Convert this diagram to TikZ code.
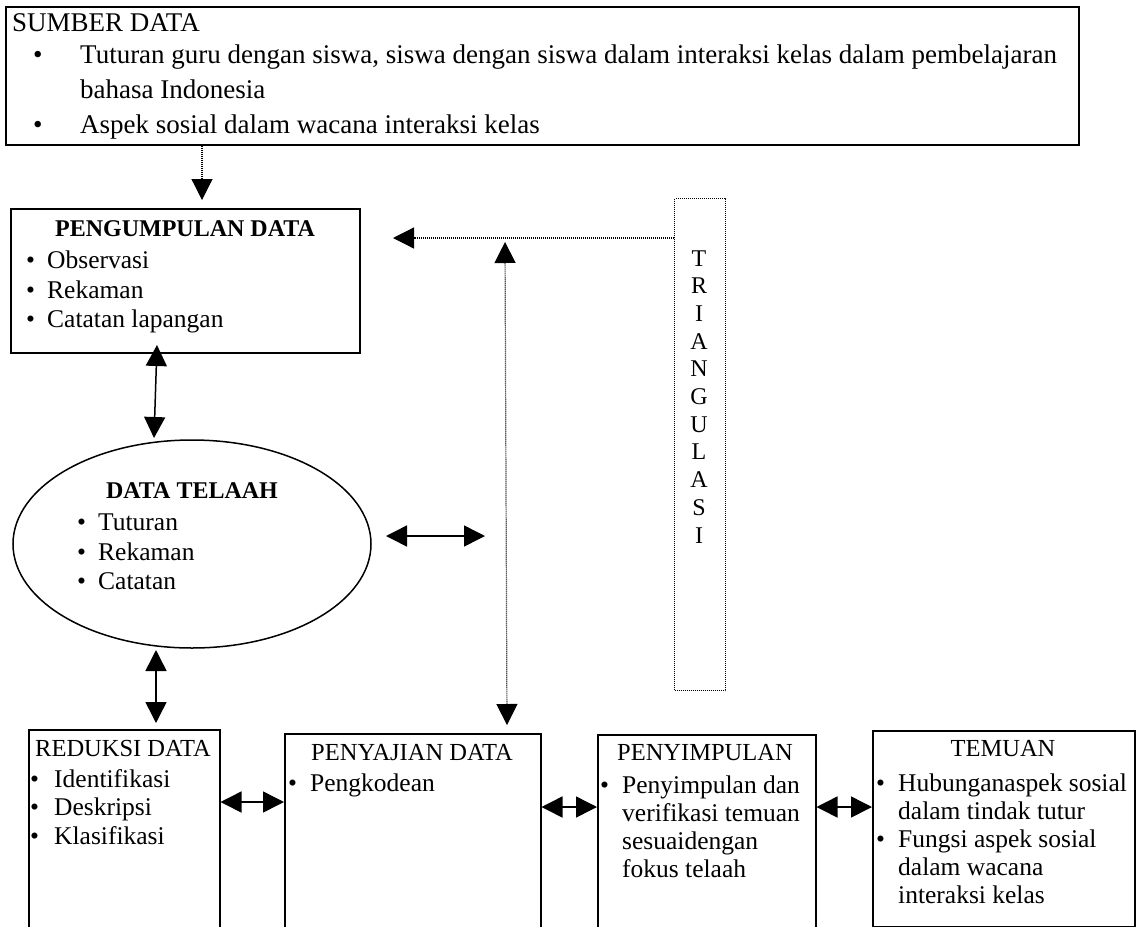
\documentclass[tikz,border=0pt]{standalone}
\usepackage{fontspec}
\setmainfont{Liberation Serif}
\usetikzlibrary{arrows.meta,shapes.geometric}
\begin{document}
\begin{tikzpicture}[x=1pt,y=-1pt,
  box/.style={draw,line width=1.5pt,inner sep=0pt,anchor=north west},
  tri/.style={-{Triangle[width=21pt,length=21pt]}},
  dtri/.style={{Triangle[width=21pt,length=21pt]}-{Triangle[width=21pt,length=21pt]}},
  solidln/.style={line width=1.5pt},
  dotln/.style={line width=1.2pt,dash pattern=on 1pt off 1pt},
  ttlb/.style={anchor=base,inner sep=0pt,font=\fontsize{24}{28}\selectfont\bfseries},
  ttl/.style={anchor=base,inner sep=0pt,font=\fontsize{24.5}{28}\selectfont},
  ttlw/.style={anchor=base west,inner sep=0pt,font=\fontsize{24.5}{28}\selectfont},
  txt/.style={anchor=base west,inner sep=0pt,font=\fontsize{25.5}{28}\selectfont},
  tnr/.style={anchor=base west,inner sep=0pt,font=\fontsize{27}{35}\selectfont},
  letter/.style={anchor=base,inner sep=0pt,font=\fontsize{24}{26}\selectfont},
]
\useasboundingbox (0,0) rectangle (1136,927);
\fill[white] (0,0) rectangle (1136,927);

% ---------- boxes ----------
\node[box,minimum width=1073pt,minimum height=138pt] (sumber) at (5,6) {};
\node[box,minimum width=349pt,minimum height=144pt] (peng) at (10,208) {};
\node[draw,line width=1.5pt,ellipse,inner sep=0pt,minimum width=358pt,minimum height=208pt] (telaah) at (192,544) {};
\node[box,dotln,minimum width=51pt,minimum height=492pt] (trian) at (674,198) {};
\node[box,minimum width=191pt,minimum height=230pt] (reduksi) at (28,729) {};
\node[box,minimum width=256pt,minimum height=230pt] (penyajian) at (284,733) {};
\node[box,minimum width=218pt,minimum height=230pt] (penyimpulan) at (597,734) {};
\node[box,minimum width=262pt,minimum height=196pt] (temuan) at (872,730) {};

% ---------- top box text ----------
\node[tnr] (s0) at (12,31) {SUMBER DATA};
\node[tnr] (s1b) at (33,63) {•};
\node[tnr] (s1) at (80,63) {Tuturan guru dengan siswa, siswa dengan siswa dalam interaksi kelas dalam pembelajaran};
\node[tnr] (s2) at (80,98) {bahasa Indonesia};
\node[tnr] (s3b) at (33,133) {•};
\node[tnr] (s3) at (80,133) {Aspek sosial dalam wacana interaksi kelas};

% ---------- pengumpulan ----------
\node[ttlb] (p0) at (185,236) {PENGUMPULAN DATA};
\node[txt] (p1b) at (26,268) {•};
\node[txt] (p1) at (47,268) {Observasi};
\node[txt] (p2b) at (26,298) {•};
\node[txt] (p2) at (47,298) {Rekaman};
\node[txt] (p3b) at (26,327) {•};
\node[txt] (p3) at (47,327) {Catatan lapangan};

% ---------- data telaah ----------
\node[ttlb] (t0) at (192,498) {DATA TELAAH};
\node[txt] (t1b) at (77,530) {•};
\node[txt] (t1) at (98,530) {Tuturan};
\node[txt] (t2b) at (77,560) {•};
\node[txt] (t2) at (98,560) {Rekaman};
\node[txt] (t3b) at (77,589) {•};
\node[txt] (t3) at (98,589) {Catatan};

% ---------- triangulasi ----------
\foreach \ch [count=\i] in {T,R,I,A,N,G,U,L,A,S,I}
  \node[letter] (tri\i) at (699,{258+8+(\i-1)*27.7}) {\ch};

% ---------- reduksi ----------
\node[ttlw] (r0) at (35,756) {REDUKSI DATA};
\node[txt] (r1b) at (30,787) {•};
\node[txt] (r1) at (54,787) {Identifikasi};
\node[txt] (r2b) at (30,815) {•};
\node[txt] (r2) at (54,815) {Deskripsi};
\node[txt] (r3b) at (30,844) {•};
\node[txt] (r3) at (54,844) {Klasifikasi};

% ---------- penyajian ----------
\node[ttl] (j0) at (412,760) {PENYAJIAN DATA};
\node[txt] (j1b) at (288,791) {•};
\node[txt] (j1) at (310,791) {Pengkodean};

% ---------- penyimpulan ----------
\node[ttl] (k0) at (705,760) {PENYIMPULAN};
\node[txt] (k1b) at (600,793) {•};
\node[txt] (k1) at (622,793) {Penyimpulan dan};
\node[txt] (k2) at (622,821) {verifikasi temuan};
\node[txt] (k3) at (622,849) {sesuaidengan};
\node[txt] (k4) at (622,877) {fokus telaah};

% ---------- temuan ----------
\node[ttl] (m0) at (1003,756) {TEMUAN};
\node[txt] (m1b) at (876,791) {•};
\node[txt] (m1) at (898,791) {Hubunganaspek sosial};
\node[txt] (m2) at (898,819) {dalam tindak tutur};
\node[txt] (m3b) at (876,847) {•};
\node[txt] (m3) at (898,847) {Fungsi aspek sosial};
\node[txt] (m4) at (898,875) {dalam wacana};
\node[txt] (m5) at (898,903) {interaksi kelas};

% ---------- connectors ----------
\coordinate (aA) at (202,200);
\draw[dotln,tri] (sumber.south -| aA) -- (aA);

\coordinate (aB) at (393,238);
\draw[dotln,tri] (trian.west |- aB) -- (aB);

\coordinate (vT) at (505,242);
\coordinate (vB) at (507,725);
\draw[dotln,dtri] (vT) -- (vB);

\coordinate (pe1) at (157,345);
\coordinate (pe2) at (154,438);
\draw[solidln,dtri] (pe1) -- (pe2);

\coordinate (h1) at (386,536);
\coordinate (h2) at (485,536);
\draw[solidln,dtri] (h1) -- (h2);

\coordinate (te1) at (156,650);
\coordinate (te2) at (156,723);
\draw[solidln,dtri] (te1) -- (te2);

\coordinate (rj) at (217,802);
\draw[solidln,dtri] (reduksi.east |- rj) -- (penyajian.west |- rj);

\coordinate (jk) at (541,807);
\draw[solidln,dtri] (penyajian.east |- jk) -- (penyimpulan.west |- jk);

\coordinate (km) at (815,807);
\draw[solidln,dtri] (penyimpulan.east |- km) -- (temuan.west |- km);
\end{tikzpicture}
\end{document}
